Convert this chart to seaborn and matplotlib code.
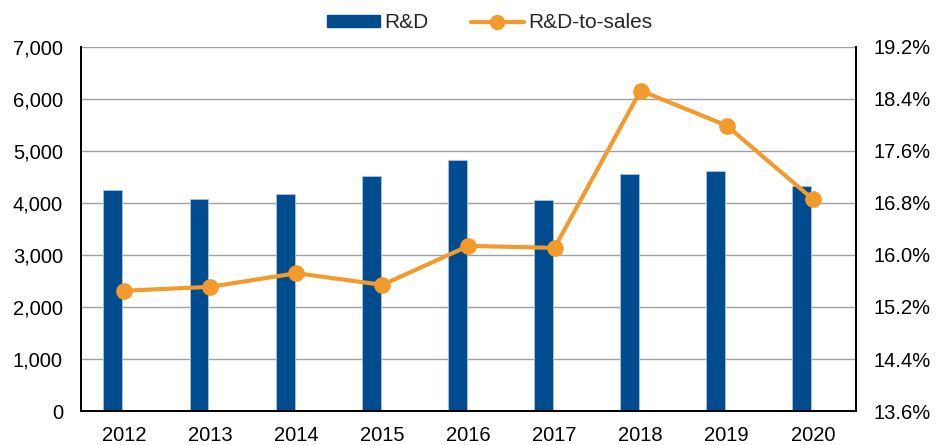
import pandas as pd
import numpy as np
import matplotlib
matplotlib.use("Agg")
import matplotlib.pyplot as plt
import seaborn as sns
from matplotlib.patches import Patch
from matplotlib.lines import Line2D
from matplotlib.ticker import FuncFormatter, MultipleLocator

# data
years = ["2012", "2013", "2014", "2015", "2016", "2017", "2018", "2019", "2020"]
rd = [4250, 4080, 4175, 4528, 4830, 4054, 4566, 4618, 4329]
rd_to_sales = [15.45, 15.51, 15.72, 15.54, 16.14, 16.11, 18.53, 17.99, 16.86]

bar_color = "#004C8F"
line_color = "#F39A2C"

df = pd.DataFrame({"year": years, "rd": rd, "ratio": rd_to_sales})

sns.set_style("white")
plt.rcParams["font.family"] = ["Liberation Sans", "DejaVu Sans"]

fig = plt.figure(figsize=(9.38, 4.45), dpi=100)
ax = fig.add_axes([0.0864, 0.0764, 0.826, 0.818])

sns.barplot(data=df, x="year", y="rd", color=bar_color, width=0.22,
            saturation=1, ax=ax, edgecolor="#A9C4E0", linewidth=0.6)
# bars sit a little left of each category centre
for p in ax.patches:
    p.set_x(p.get_x() - 0.13)

ax.set_ylim(0, 7000)
ax.yaxis.set_major_locator(MultipleLocator(1000))
ax.yaxis.set_major_formatter(FuncFormatter(lambda v, _: f"{v:,.0f}"))
ax.grid(axis="y", color="#A0A0A0", linewidth=1)
ax.set_axisbelow(True)
ax.set_xlabel("")
ax.set_ylabel("")
ax.set_xlim(-0.5, len(years) - 0.5)

ax2 = ax.twinx()
sns.lineplot(x=np.arange(len(years)), y=df["ratio"], color=line_color,
             linewidth=3, marker="o", markersize=12, markeredgewidth=0,
             ax=ax2)
ax2.set_ylim(13.6, 19.2)
ax2.yaxis.set_major_locator(MultipleLocator(0.8))
ax2.yaxis.set_major_formatter(FuncFormatter(lambda v, _: f"{v:.1f}%"))
ax2.set_ylabel("")
ax2.set_xlim(-0.5, len(years) - 0.5)

for a in (ax, ax2):
    a.tick_params(axis="both", length=0, labelsize=14.5, colors="black", pad=13)
    a.spines["top"].set_visible(False)
    for s in ("left", "right", "bottom"):
        a.spines[s].set_color("black")
        a.spines[s].set_linewidth(1.3)
ax.tick_params(axis="x", pad=11)

handles = [
    Patch(facecolor=bar_color, edgecolor=bar_color, label="R&D"),
    Line2D([0], [0], color=line_color, linewidth=3, marker="o",
           markersize=10, label="R&D-to-sales"),
]
fig.legend(handles=handles, loc="upper center", bbox_to_anchor=(0.522, 1.012),
           ncol=2, frameon=False, fontsize=15, handlelength=2.55,
           handleheight=0.55, columnspacing=2.0, handletextpad=0.2)

fig.savefig("out.png", dpi=100)
